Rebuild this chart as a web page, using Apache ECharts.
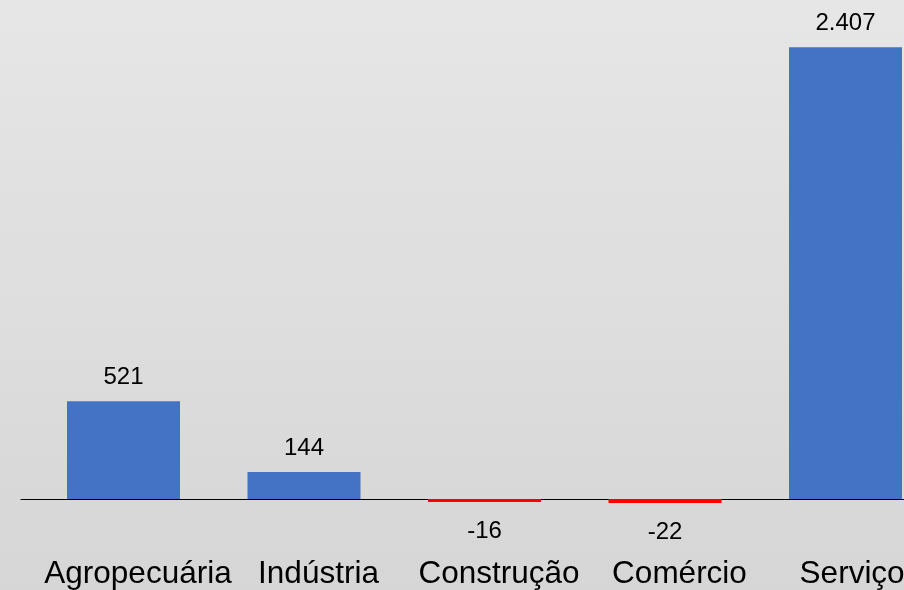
<!DOCTYPE html>
<html>
<head>
<meta charset="utf-8">
<script src="https://cdn.jsdelivr.net/npm/echarts@6/dist/echarts.min.js"></script>
<style>
  html, body { margin: 0; padding: 0; }
  #chart { width: 904px; height: 590px; }
</style>
</head>
<body>
<div id="chart"></div>
<script>
const sectors = ['Agropecuária', 'Indústria', 'Construção', 'Comércio', 'Serviços'];
const balance = [521, 144, -16, -22, 2407];

const positiveColor = '#4472C4';
const negativeColor = '#FF0000';
const font = '"Liberation Sans", Arial, sans-serif';

const chart = echarts.init(document.getElementById('chart'), null, { renderer: 'canvas' });

// same px-per-unit in both grids: 0 lands at y≈499
const yRange = { min: -100, max: 2600 };
const plotTop = 11;
const plotHeight = 506.7;

chart.setOption({
  animation: false,
  backgroundColor: new echarts.graphic.LinearGradient(0, 0, 0, 1, [
    { offset: 0, color: '#e6e6e6' },
    { offset: 1, color: '#d6d6d6' }
  ]),
  grid: [
    { left: 33.25, width: 902.5, top: plotTop, height: plotHeight, outerBoundsMode: 'none', containLabel: false },
    // only used to draw the zero line a bit further left
    { left: 21, right: 0, top: plotTop, height: plotHeight, outerBoundsMode: 'none', containLabel: false }
  ],
  xAxis: [
    {
      type: 'category',
      gridIndex: 0,
      position: 'bottom',
      data: sectors,
      axisLine: { show: false, onZero: false },
      axisTick: { show: false },
      axisLabel: {
        interval: 0,
        margin: 41,
        // labels sit a little right of the bar centres in the original
        padding: [0, 0, 0, 29],
        color: '#000',
        fontSize: 31.5,
        fontFamily: font
      }
    },
    {
      type: 'category',
      gridIndex: 1,
      data: [''],
      axisLine: { show: true, onZero: true, lineStyle: { color: '#000', width: 1 } },
      axisTick: { show: false },
      axisLabel: { show: false }
    }
  ],
  yAxis: [
    {
      type: 'value',
      gridIndex: 0,
      min: yRange.min,
      max: yRange.max,
      show: false,
      splitLine: { show: false }
    },
    {
      type: 'value',
      gridIndex: 1,
      min: yRange.min,
      max: yRange.max,
      show: false,
      splitLine: { show: false }
    }
  ],
  series: [
    {
      type: 'bar',
      xAxisIndex: 0,
      yAxisIndex: 0,
      barWidth: 113,
      data: balance.map(v => ({
        value: v,
        itemStyle: { color: v < 0 ? negativeColor : positiveColor },
        label: { position: v < 0 ? 'bottom' : 'top', distance: v < 0 ? 17 : 12 }
      })),
      label: {
        show: true,
        color: '#000',
        fontSize: 24,
        fontFamily: font,
        formatter: p => p.value.toLocaleString('pt-BR')
      },
      z: 3
    },
    {
      type: 'bar',
      xAxisIndex: 1,
      yAxisIndex: 1,
      data: []
    }
  ]
});
</script>
</body>
</html>
